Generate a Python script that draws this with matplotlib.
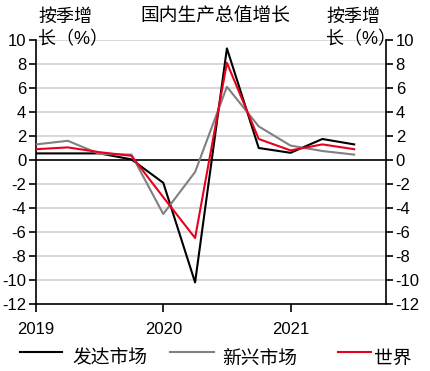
import matplotlib.pyplot as plt
from matplotlib.lines import Line2D
import numpy as np

plt.rcParams['font.family'] = ['Liberation Sans', 'Noto Sans CJK SC', 'DejaVu Sans']
plt.rcParams['axes.unicode_minus'] = False

quarters = ['2019Q1', '2019Q2', '2019Q3', '2019Q4', '2020Q1', '2020Q2', '2020Q3',
            '2020Q4', '2021Q1', '2021Q2', '2021Q3']
developed = [0.55, 0.55, 0.55, 0.05, -1.9, -10.2, 9.3, 1.0, 0.6, 1.75, 1.3]
emerging = [1.3, 1.6, 0.5, 0.45, -4.5, -1.0, 6.1, 2.8, 1.2, 0.75, 0.45]
world = [0.9, 1.05, 0.65, 0.35, -3.1, -6.5, 8.1, 1.75, 0.8, 1.3, 0.9]
year_ticks = [0, 4, 8]
year_labels = ['2019', '2020', '2021']

W, H = 431, 371
fig = plt.figure(figsize=(W / 100, H / 100), dpi=100)
ax = fig.add_axes([36 / W, 1 - 304 / H, 350 / W, 264 / H])

x = np.arange(len(quarters))
series = [(developed, 'black', '发达市场'),
          (emerging, '#808080', '新兴市场'),
          (world, '#e8001c', '世界')]
for vals, col, lab in series:
    ax.plot(x, vals, color=col, lw=1.5, label=lab, zorder=3)

ax.set_xlim(0, 11)
ax.set_ylim(-12, 10)
ax.set_yticks(np.arange(-12, 11, 2))
ax.set_xticks(year_ticks)
ax.set_xticklabels(year_labels)

for v in np.arange(-10, 11, 2):
    if v != 0:
        ax.axhline(v, color='#d9d9d9', lw=1.5, zorder=1)
ax.axhline(0, color='black', lw=1.2, zorder=2)

ax.spines['top'].set_visible(False)
for s in ['left', 'right', 'bottom']:
    ax.spines[s].set_linewidth(1.2)
ax.tick_params(axis='y', direction='out', length=5, width=1.2, labelsize=12,
               right=True, labelright=True, pad=2)
ax.tick_params(axis='x', direction='out', length=6, width=1.2, labelsize=12, pad=7)

fig.text(215 / W, 1 - 17 / H, '国内生产总值增长', ha='center', va='center', fontsize=13.5)
for xl in (38, 326):
    fig.text(xl / W, 1 - 17 / H, '按季增', ha='left', va='center', fontsize=13)
    fig.text(xl / W, 1 - 40 / H, '长（%）', ha='left', va='center', fontsize=13)

# legend drawn by hand along the bottom edge
legend_pos = [(20, 62, 72), (170, 214, 222), (338, 371, 374)]
for (vals, col, lab), (x0, x1, xt) in zip(series, legend_pos):
    fig.add_artist(Line2D([x0 / W, x1 / W], [1 - 352 / H, 1 - 352 / H],
                          color=col, lw=1.5, transform=fig.transFigure))
    fig.text(xt / W, 1 - 359 / H, lab, ha='left', va='center', fontsize=13.5)

fig.savefig('out.png', dpi=100)
